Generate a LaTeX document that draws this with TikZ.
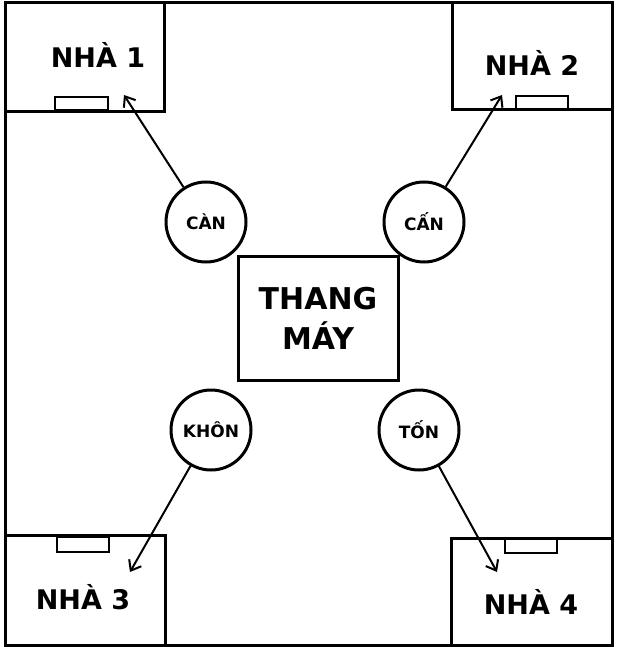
\documentclass[tikz,border=0pt]{standalone}
\usepackage{fontspec}
\setmainfont{DejaVu Sans}
\usetikzlibrary{arrows.meta}
\begin{document}
\begin{tikzpicture}[x=1pt,y=-1pt,line width=3pt,
  room/.style={draw},
  lbl/.style={font=\bfseries\fontsize{27}{30}\selectfont},
  circ/.style={draw,circle,minimum size=80pt,inner sep=0pt,font=\bfseries\fontsize{17}{20}\selectfont},
  arr/.style={-{Straight Barb[length=9pt,width=14pt]},line width=2pt}]
\useasboundingbox (0,0) rectangle (616,647);
\draw (5,3) rectangle (612,645);
\draw (5,3) rectangle (164,112); \draw[line width=2pt] (55,97) rectangle (108,110);
\draw (452,3) rectangle (612,110); \draw[line width=2pt] (516,96) rectangle (568,110);
\draw (5,535) rectangle (165,645); \draw[line width=2pt] (57,537) rectangle (109,552);
\draw (451,538) rectangle (612,645); \draw[line width=2pt] (505,538) rectangle (557,553);
\node[lbl] (n1) at (98,55) {NHÀ 1};
\node[lbl] (n2) at (532,63) {NHÀ 2};
\node[lbl] (n3) at (83,597) {NHÀ 3};
\node[lbl] (n4) at (531,602) {NHÀ 4};
\node[draw,minimum width=160pt,minimum height=124pt,align=center,font=\bfseries\fontsize{30}{40}\selectfont] (tm) at (318,318) {THANG\\MÁY};
\node[circ] (can) at (206,222) {CÀN};
\node[circ] (can2) at (424,222) {CẤN};
\node[circ] (khon) at (211,430) {KHÔN};
\node[circ] (ton) at (419,430) {TỐN};
\coordinate (a1) at (124,95);
\coordinate (a2) at (502,95);
\coordinate (a3) at (130,572);
\coordinate (a4) at (497,572);
\draw[arr] (can) -- (a1);
\draw[arr] (can2) -- (a2);
\draw[arr] (khon) -- (a3);
\draw[arr] (ton) -- (a4);
\end{tikzpicture}
\end{document}
